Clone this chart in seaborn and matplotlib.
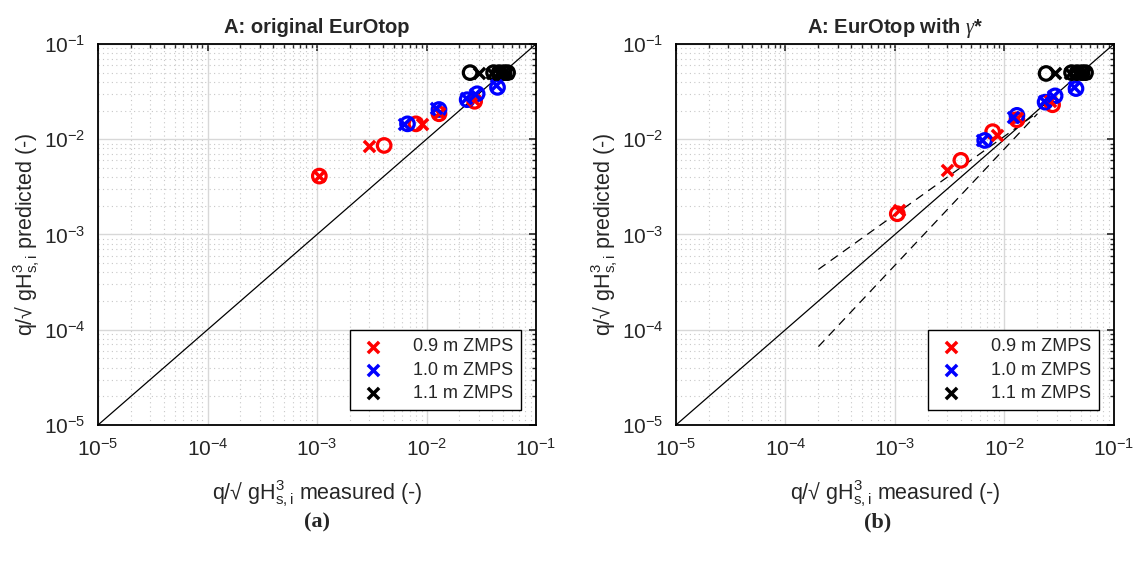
import numpy as np
import pandas as pd
import matplotlib
matplotlib.use("Agg")
import matplotlib.pyplot as plt
import seaborn as sns

sns.set_style("white")
plt.rcParams['font.family'] = ['Liberation Sans', 'DejaVu Sans']
plt.rcParams['mathtext.fontset'] = 'custom'
plt.rcParams['mathtext.rm'] = 'Liberation Sans'
plt.rcParams['mathtext.it'] = 'Liberation Serif:italic'
plt.rcParams['mathtext.bf'] = 'Liberation Sans:bold'

groups = ["0.9 m ZMPS", "1.0 m ZMPS", "1.1 m ZMPS"]
colors = {"0.9 m ZMPS": "#ff0000", "1.0 m ZMPS": "#0000ff", "1.1 m ZMPS": "#000000"}

# Panel (a): original EurOtop  (measured, predicted)
a_red_x_meas = [1.05e-3, 3.0e-3, 9.0e-3, 1.3e-2, 2.7e-2]
a_red_x_pred = [4.1e-3, 8.4e-3, 1.45e-2, 1.9e-2, 2.6e-2]
a_red_o_meas = [1.05e-3, 4.1e-3, 8.0e-3, 1.3e-2, 2.75e-2]
a_red_o_pred = [4.1e-3, 8.6e-3, 1.45e-2, 1.85e-2, 2.5e-2]
a_blue_x_meas = [6.2e-3, 1.22e-2, 2.3e-2, 2.8e-2, 4.3e-2]
a_blue_x_pred = [1.45e-2, 2.15e-2, 2.7e-2, 3.0e-2, 3.7e-2]
a_blue_o_meas = [6.7e-3, 1.3e-2, 2.35e-2, 2.9e-2, 4.45e-2]
a_blue_o_pred = [1.45e-2, 2.05e-2, 2.6e-2, 3.0e-2, 3.5e-2]
a_black_x_meas = [3.0e-2, 4.0e-2, 4.5e-2, 5.0e-2, 5.4e-2]
a_black_x_pred = [5.0e-2, 5.0e-2, 5.0e-2, 5.0e-2, 5.0e-2]
a_black_o_meas = [2.5e-2, 4.1e-2, 4.6e-2, 5.1e-2, 5.5e-2]
a_black_o_pred = [5.0e-2, 5.0e-2, 5.0e-2, 5.0e-2, 5.0e-2]

# Panel (b): EurOtop with gamma*
b_red_x_meas = [1.1e-3, 3.0e-3, 8.5e-3, 1.3e-2, 2.6e-2]
b_red_x_pred = [1.8e-3, 4.8e-3, 1.1e-2, 1.65e-2, 2.5e-2]
b_red_o_meas = [1.05e-3, 4.0e-3, 7.8e-3, 1.3e-2, 2.75e-2]
b_red_o_pred = [1.65e-3, 6.0e-3, 1.2e-2, 1.6e-2, 2.3e-2]
b_blue_x_meas = [6.2e-3, 1.2e-2, 2.3e-2, 2.8e-2, 4.3e-2]
b_blue_x_pred = [9.7e-3, 1.7e-2, 2.5e-2, 2.85e-2, 3.5e-2]
b_blue_o_meas = [6.6e-3, 1.3e-2, 2.35e-2, 2.9e-2, 4.5e-2]
b_blue_o_pred = [9.7e-3, 1.78e-2, 2.45e-2, 2.85e-2, 3.4e-2]
b_black_x_meas = [2.9e-2, 4.0e-2, 4.5e-2, 5.0e-2, 5.4e-2]
b_black_x_pred = [4.9e-2, 5.0e-2, 5.0e-2, 5.0e-2, 5.0e-2]
b_black_o_meas = [2.4e-2, 4.1e-2, 4.6e-2, 5.1e-2, 5.5e-2]
b_black_o_pred = [4.9e-2, 5.0e-2, 5.0e-2, 5.0e-2, 5.0e-2]

# Band lines in panel (b)
band_x = [2e-4, 2e-2]
band_upper = [4.3e-4, 1.9e-2]
band_lower = [6.65e-5, 1.85e-2]

diag = [1e-5, 1e-1]
ticks = [1e-5, 1e-4, 1e-3, 1e-2, 1e-1]


def make_df(rx, ry, rox, roy, bx, by, box, boy, kx, ky, kox, koy):
    rows = []
    for g, (xm, yp, om, op) in zip(groups, [(rx, ry, rox, roy), (bx, by, box, boy), (kx, ky, kox, koy)]):
        for a, b in zip(xm, yp):
            rows.append((a, b, g, "x"))
        for a, b in zip(om, op):
            rows.append((a, b, g, "o"))
    return pd.DataFrame(rows, columns=["measured", "predicted", "group", "mk"])


df_a = make_df(a_red_x_meas, a_red_x_pred, a_red_o_meas, a_red_o_pred,
               a_blue_x_meas, a_blue_x_pred, a_blue_o_meas, a_blue_o_pred,
               a_black_x_meas, a_black_x_pred, a_black_o_meas, a_black_o_pred)
df_b = make_df(b_red_x_meas, b_red_x_pred, b_red_o_meas, b_red_o_pred,
               b_blue_x_meas, b_blue_x_pred, b_blue_o_meas, b_blue_o_pred,
               b_black_x_meas, b_black_x_pred, b_black_o_meas, b_black_o_pred)

fig = plt.figure(figsize=(11.33, 5.62), dpi=100)
ax1 = fig.add_axes([0.0865, 0.2438, 0.3866, 0.678])
ax2 = fig.add_axes([0.5966, 0.2438, 0.3866, 0.678])

ylab = r"q/√ gH$^{3}_{\mathrm{s,i}}$ predicted (-)"
xlab = r"q/√ gH$^{3}_{\mathrm{s,i}}$ measured (-)"

for ax, df, title in [(ax1, df_a, "A: original EurOtop"), (ax2, df_b, r"A: EurOtop with $\mathit{\gamma}$*")]:
    ax.set_xscale("log")
    ax.set_yscale("log")
    ax.plot(diag, diag, color="black", lw=0.9, zorder=2)
    for g in groups:
        sub = df[df.group == g]
        sx = sub[sub.mk == "x"]
        so = sub[sub.mk == "o"]
        sns.scatterplot(data=so, x="measured", y="predicted", ax=ax, marker="o",
                        s=95, facecolor="none", edgecolor=colors[g], linewidth=2.3,
                        zorder=3, legend=False)
        sns.scatterplot(data=sx, x="measured", y="predicted", ax=ax, marker="x",
                        s=65, color=colors[g], linewidth=2.5, zorder=4, label=g)
    ax.set_xlim(1e-5, 1e-1)
    ax.set_ylim(1e-5, 1e-1)
    ax.set_xticks(ticks)
    ax.set_yticks(ticks)
    ax.grid(True, which="major", color="#d8d8d8", lw=1.0, ls="-")
    ax.grid(True, which="minor", color="#c8c8c8", lw=0.8, ls=(0, (1, 3)))
    ax.set_axisbelow(True)
    ax.tick_params(which="both", direction="in", top=True, right=True, labelsize=15, pad=9)
    ax.tick_params(which="major", length=5, width=1.2)
    ax.tick_params(which="minor", length=3, width=1.0)
    for sp in ax.spines.values():
        sp.set_linewidth(1.3)
        sp.set_color("black")
    ax.set_title(title, fontsize=14.5, fontweight="bold", pad=8)
    ax.set_xlabel(xlab, fontsize=15.5, labelpad=14)
    ax.set_ylabel(ylab, fontsize=15.5, labelpad=1)
    leg = ax.legend(loc="lower right", bbox_to_anchor=(0.966, 0.039), fontsize=13,
                    frameon=True, fancybox=False, edgecolor="black", framealpha=1,
                    handletextpad=1.4, borderpad=0.45, labelspacing=0.35, handlelength=1.6,
                    borderaxespad=0)
    leg.get_frame().set_linewidth(1.0)

ax2.plot(band_x, band_upper, color="black", lw=0.9, ls=(0, (7, 5)), zorder=2)
ax2.plot(band_x, band_lower, color="black", lw=0.9, ls=(0, (7, 5)), zorder=2)

fig.text(0.28, 0.07, "(a)", ha="center", va="center", fontsize=16, fontweight="bold",
         family=["Liberation Serif", "DejaVu Serif"])
fig.text(0.775, 0.07, "(b)", ha="center", va="center", fontsize=16, fontweight="bold",
         family=["Liberation Serif", "DejaVu Serif"])

fig.savefig("out.png", dpi=100)
